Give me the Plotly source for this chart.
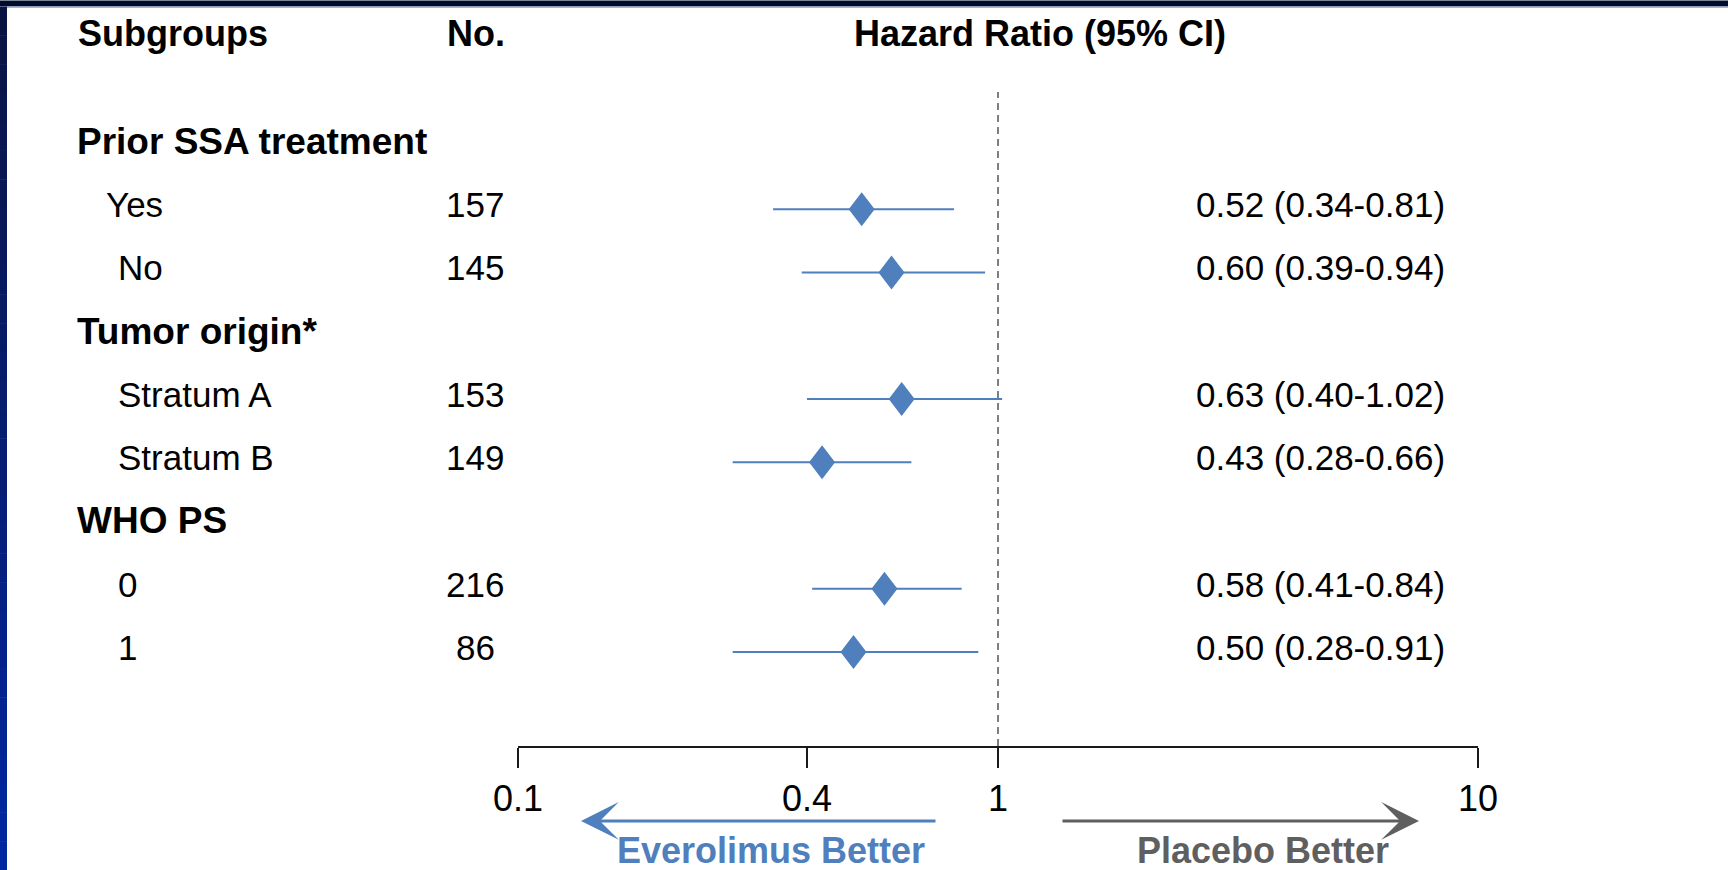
import plotly.graph_objects as go

# ---- data -----------------------------------------------------------------
group_names = ["Prior SSA treatment", "Tumor origin*", "WHO PS"]
subgroup_labels = [["Yes", "No"], ["Stratum A", "Stratum B"], ["0", "1"]]
patients = [157, 145, 153, 149, 216, 86]
hazard_ratio = [0.52, 0.60, 0.63, 0.43, 0.58, 0.50]
ci_low = [0.34, 0.39, 0.40, 0.28, 0.41, 0.28]
ci_high = [0.81, 0.94, 1.02, 0.66, 0.84, 0.91]
tick_values = [0.1, 0.4, 1, 10]
tick_labels = ["0.1", "0.4", "1", "10"]
column_headers = ["Subgroups", "No.", "Hazard Ratio (95% CI)"]
favour_labels = ["Everolimus Better", "Placebo Better"]

# ---- page geometry (pixels) -----------------------------------------------
FIG_W, FIG_H = 1728, 870
M_L, M_R, M_T, M_B = 518, 250, 91.5, 124
PLOT_W = FIG_W - M_L - M_R
PLOT_H = FIG_H - M_T - M_B
ROW_RANGE = [9.487, -0.853]          # reversed: first row on top

FONT = "Liberation Sans, Arial, Helvetica, sans-serif"
BLUE = "#4f7fbd"
GREY = "#5f5f5f"
TEXT_SIZE = 35
BOLD_SIZE = 36


def paper_x(px):
    return (px - M_L) / PLOT_W


def paper_y(py):
    return 1 - (py - M_T) / PLOT_H


# row index for every group heading and every subgroup
group_rows, sub_rows, sub_names = [], [], []
row = 0
for name, subs in zip(group_names, subgroup_labels):
    group_rows.append(row)
    row += 1
    for s in subs:
        sub_rows.append(row)
        sub_names.append(s)
        row += 1

fig = go.Figure()

# confidence intervals
fig.add_trace(go.Scatter(
    x=hazard_ratio, y=sub_rows, mode="markers",
    marker=dict(size=1, color="rgba(0,0,0,0)"),
    error_x=dict(type="data", symmetric=False,
                 array=[h - m for h, m in zip(ci_high, hazard_ratio)],
                 arrayminus=[m - l for m, l in zip(hazard_ratio, ci_low)],
                 color=BLUE, thickness=2, width=0),
    hoverinfo="skip", showlegend=False,
))

shapes = []

# point estimates as diamonds anchored on the data values
for h, r in zip(hazard_ratio, sub_rows):
    shapes.append(dict(
        type="path", xref="x", yref="y",
        xsizemode="pixel", ysizemode="pixel", xanchor=h, yanchor=r,
        path="M0,17 L13,0 L0,-17 L-13,0 Z",
        fillcolor=BLUE, line=dict(color=BLUE, width=0), layer="above",
    ))

# line of no effect
shapes.append(dict(type="line", xref="x", yref="paper", x0=1, x1=1, y0=0, y1=1,
                   line=dict(color="#7f7f7f", width=2, dash="7px,5px"), layer="below"))

# slide frame: dark top band and shaded left band
shapes.append(dict(type="rect", xref="paper", yref="paper",
                   x0=paper_x(0), x1=paper_x(FIG_W), y0=paper_y(0), y1=paper_y(6),
                   fillcolor="#000c2e", line=dict(width=0)))
shapes.append(dict(type="rect", xref="paper", yref="paper",
                   x0=paper_x(0), x1=paper_x(FIG_W), y0=paper_y(6), y1=paper_y(7.5),
                   fillcolor="#aeb3d6", line=dict(width=0)))
steps = 30
top_rgb, bot_rgb = (10, 20, 66), (0, 38, 160)
for i in range(steps):
    t = i / (steps - 1)
    c = tuple(round(a + (b - a) * t) for a, b in zip(top_rgb, bot_rgb))
    y0 = 6 + (FIG_H - 6) * i / steps
    y1 = 6 + (FIG_H - 6) * (i + 1) / steps + 0.5
    shapes.append(dict(type="rect", xref="paper", yref="paper",
                       x0=paper_x(0), x1=paper_x(7), y0=paper_y(y0), y1=paper_y(y1),
                       fillcolor="rgb(%d,%d,%d)" % c, line=dict(width=0)))

annotations = []


def text(x, y, s, size=TEXT_SIZE, bold=False, color="#000000", anchor="left",
         yref="y", xshift=0, yshift=4.5):
    annotations.append(dict(
        xref="paper", yref=yref, x=x, y=y, text=("<b>%s</b>" % s) if bold else s,
        showarrow=False, xanchor=anchor, yanchor="middle",
        font=dict(family=FONT, size=size, color=color),
        xshift=xshift, yshift=yshift,
    ))


# column headers
text(paper_x(76), paper_y(33), column_headers[0], BOLD_SIZE, True, yref="paper", yshift=0)
text(paper_x(476), paper_y(33), column_headers[1], BOLD_SIZE, True, anchor="center",
     yref="paper", yshift=0)
text(paper_x(1040), paper_y(33), column_headers[2], BOLD_SIZE, True, anchor="center",
     yref="paper", yshift=0)

# group headings
for name, r in zip(group_names, group_rows):
    text(paper_x(75), r, name, 37, True)

# subgroup rows: label, patient count, HR (95% CI)
indent = {"Yes": 104}
for name, r, n, h, lo, hi in zip(sub_names, sub_rows, patients, hazard_ratio, ci_low, ci_high):
    text(paper_x(indent.get(name, 116)), r, name)
    text(paper_x(475), r, str(n), anchor="center")
    text(paper_x(1194), r, "%.2f (%.2f-%.2f)" % (h, lo, hi))

# direction arrows under the axis
arrow_y = paper_y(821)
annotations.append(dict(xref="paper", yref="paper", x=paper_x(581), y=arrow_y,
                        ax=356, ay=0, text="", showarrow=True, arrowhead=3,
                        arrowsize=2.1, arrowwidth=3, arrowcolor=BLUE, standoff=0))
annotations.append(dict(xref="paper", yref="paper", x=paper_x(1419), y=arrow_y,
                        ax=-358, ay=0, text="", showarrow=True, arrowhead=3,
                        arrowsize=2.1, arrowwidth=3, arrowcolor=GREY, standoff=0))
text(paper_x(771), paper_y(851), favour_labels[0], 36, True, BLUE, "center",
     yref="paper", yshift=0)
text(paper_x(1263), paper_y(851), favour_labels[1], 36, True, GREY, "center",
     yref="paper", yshift=0)

fig.update_layout(
    width=FIG_W, height=FIG_H, autosize=False,
    margin=dict(l=M_L, r=M_R, t=M_T, b=M_B, pad=0),
    paper_bgcolor="#ffffff", plot_bgcolor="#ffffff",
    showlegend=False, shapes=shapes, annotations=annotations,
    font=dict(family=FONT, color="#000000"),
    xaxis=dict(type="log", range=[-1, 1], tickvals=tick_values, ticktext=tick_labels,
               showgrid=False, zeroline=False, showline=True, linecolor="#1a1a1a",
               linewidth=2, ticks="outside", ticklen=20, tickwidth=2,
               tickcolor="#1a1a1a", tickfont=dict(family=FONT, size=36, color="#000000"),
               ticklabelstandoff=0, fixedrange=True),
    yaxis=dict(range=ROW_RANGE, visible=False, showgrid=False, zeroline=False,
               fixedrange=True),
)

fig.write_html("out.html", config={"displayModeBar": False})
